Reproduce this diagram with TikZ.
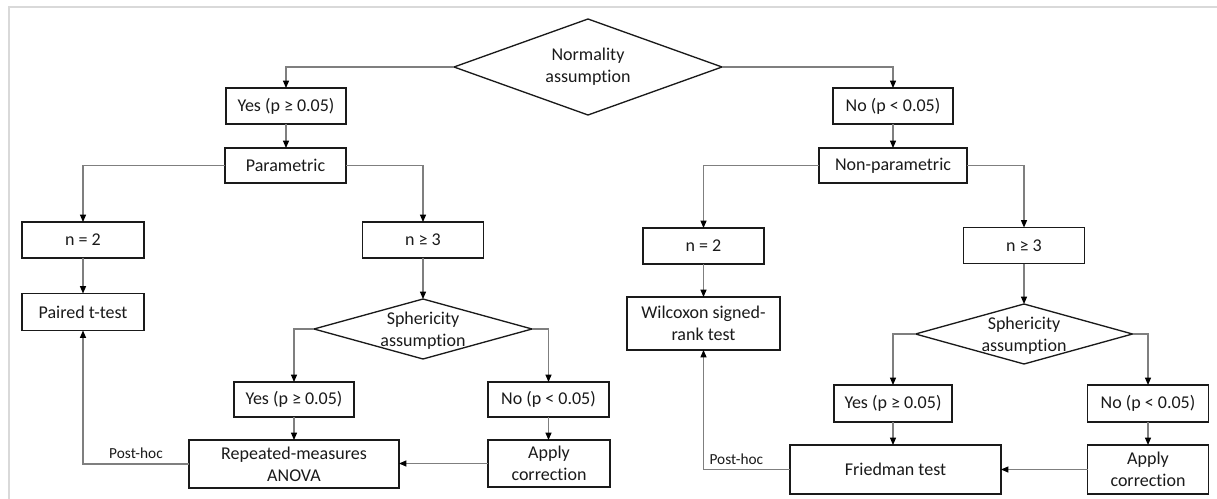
\documentclass[tikz,border=0pt]{standalone}
\usepackage{fontspec}
\setmainfont{Carlito}[Ligatures=NoCommon]
\usetikzlibrary{shapes.geometric,arrows.meta}
\definecolor{connector}{HTML}{7F7F7F}
\definecolor{frameline}{HTML}{D9D9D9}
\definecolor{ink}{HTML}{1A1A1A}
\begin{document}
\begin{tikzpicture}[x=0.75pt,y=-0.75pt,
  sz/.style 2 args={minimum width=#1*0.75pt, minimum height=#2*0.75pt},
  stepbox/.style={draw=ink, line width=1pt, fill=white, inner sep=0pt, outer sep=0pt,
    align=center, font=\fontsize{13.5}{16.5}\selectfont, text=ink},
  decision/.style={draw=ink, line width=1pt, diamond, inner sep=0pt, outer sep=0pt},
  dtext/.style={align=center, inner sep=0pt, font=\fontsize{13.5}{16.5}\selectfont, text=ink},
  flow/.style={draw=connector, line width=0.8pt, -{Triangle[length=5.5pt,width=4.5pt,color=black]}},
  posthoc/.style={font=\fontsize{11.5}{14}\selectfont, text=ink}
]
\useasboundingbox (0,0) rectangle (1217,499);

% frame edges
\draw[frameline, line width=1.5pt] (8.5,499) -- (8.5,7.5) -- (1217,7.5);

% top decision
\node[decision, sz={268}{96}] (norm) at (588,67) {};
\node[dtext] (normtxt) at (norm.center) {Normality\\assumption};

% parametric branch
\node[stepbox, sz={120}{36}] (yesT) at (286,106) {Yes (p ≥ 0.05)};
\node[stepbox, sz={121}{35}] (param) at (285.5,165.5) {Parametric};
\node[stepbox, sz={122}{36}] (n2L) at (83,240) {n = 2};
\node[stepbox, sz={121}{36}] (n3L) at (423,240) {n ≥ 3};
\node[stepbox, sz={122}{37}] (paired) at (83,312) {Paired t-test};
\node[decision, sz={218}{60}] (sphL) at (423,329) {};
\node[dtext] (sphLtxt) at (423,331) {Sphericity\\assumption};
\node[stepbox, sz={120}{35}] (yesL) at (294,399.5) {Yes (p ≥ 0.05)};
\node[stepbox, sz={121}{35}] (noL) at (548.5,399.5) {No (p < 0.05)};
\node[stepbox, sz={210}{48}] (rep) at (294,464) {Repeated-measures\\ANOVA};
\node[stepbox, sz={122}{47}] (applyL) at (549,463.5) {Apply\\correction};

% non-parametric branch
\node[stepbox, sz={120}{36}] (noT) at (893,106) {No (p < 0.05)};
\node[stepbox, sz={148}{35}] (nonparam) at (893,165.5) {Non-parametric};
\node[stepbox, sz={121}{36}] (n2R) at (703.5,246) {n = 2};
\node[stepbox, sz={121}{36}] (n3R) at (1024,245.5) {n ≥ 3};
\node[stepbox, sz={153}{53}] (wilcox) at (703.5,323.5) {Wilcoxon signed-\\rank test};
\node[decision, sz={217}{60}] (sphR) at (1024,334) {};
\node[dtext] (sphRtxt) at (1024,336) {Sphericity\\assumption};
\node[stepbox, sz={118}{37}] (yesR) at (893,403.5) {Yes (p ≥ 0.05)};
\node[stepbox, sz={121}{37}] (noR) at (1148,403.5) {No (p < 0.05)};
\node[stepbox, sz={211}{49}] (fried) at (895.5,469.5) {Friedman test};
\node[stepbox, sz={121}{49}] (applyR) at (1148,469.5) {Apply\\correction};

% connectors
\draw[flow] (norm.west) -| (yesT.north);
\draw[flow] (norm.east) -| (noT.north);
\draw[flow] (yesT.south) -- (yesT.south |- param.north);
\draw[flow] (noT.south) -- (noT.south |- nonparam.north);
\draw[flow] (param.west) -| (n2L.north);
\draw[flow] (param.east) -| (n3L.north);
\draw[flow] (nonparam.west) -| (n2R.north);
\draw[flow] (nonparam.east) -| (n3R.north);

\draw[flow] (n2L.south) -- (n2L.south |- paired.north);
\draw[flow] (n3L.south) -- (n3L.south |- sphL.north);
\draw[flow] (sphL.west) -| (yesL.north);
\draw[flow] (sphL.east) -| (noL.north);
\draw[flow] (yesL.south) -- (yesL.south |- rep.north);
\draw[flow] (noL.south) -- (noL.south |- applyL.north);
\draw[flow] (applyL.west) -- (applyL.west -| rep.east);
\draw[flow] (rep.west) -| node[posthoc, pos=0.25, above] (phL) {Post-hoc} (paired.south);

\draw[flow] (n2R.south) -- (n2R.south |- wilcox.north);
\draw[flow] (n3R.south) -- (n3R.south |- sphR.north);
\draw[flow] (sphR.west) -| (yesR.north);
\draw[flow] (sphR.east) -| (noR.north);
\draw[flow] (yesR.south) -- (yesR.south |- fried.north);
\draw[flow] (noR.south) -- (noR.south |- applyR.north);
\draw[flow] (applyR.west) -- (applyR.west -| fried.east);
\draw[flow] (fried.west) -| node[posthoc, pos=0.31, above] (phR) {Post-hoc} (wilcox.south);
\end{tikzpicture}
\end{document}
